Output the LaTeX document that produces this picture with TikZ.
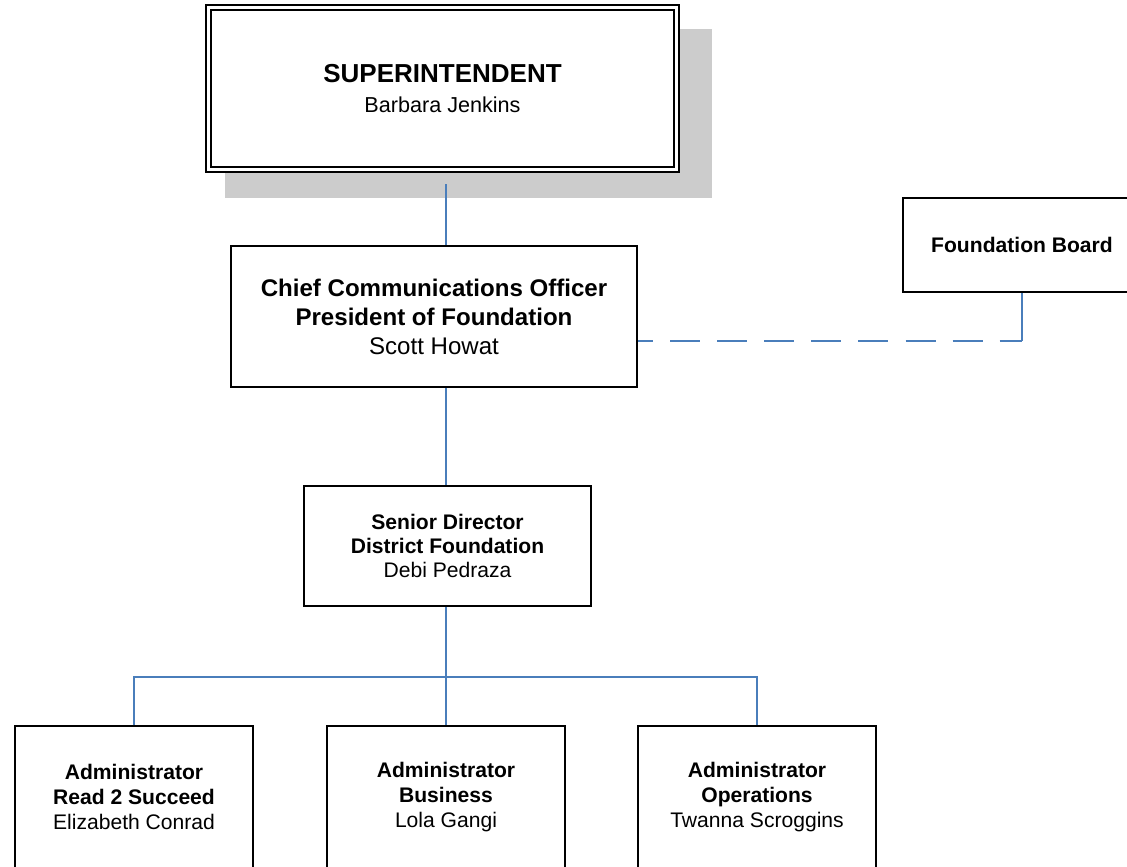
\documentclass[tikz,border=0pt]{standalone}
\usepackage{fontspec}
\setmainfont{Liberation Sans}
\usetikzlibrary{calc,shadows}
\definecolor{linkblue}{RGB}{74,126,187}
\definecolor{shade}{RGB}{204,204,204}
\tikzset{
  box/.style={draw=black,line width=1pt,fill=white,align=center,inner sep=0pt,
    minimum width=4.76cm,minimum height=2.84cm,font=\fontsize{12}{14.2}\selectfont},
  head box/.style={box,double,line width=1.3pt,double distance=1.3pt,
    minimum width=9.36cm,minimum height=3.24cm,font=\fontsize{12.3}{17}\selectfont,
    drop shadow={shadow xshift=0.5cm,shadow yshift=-0.48cm,shadow scale=1.04,fill=shade,opacity=1}},
  link/.style={draw=linkblue,line width=1pt},
  dashed link/.style={link,dash pattern=on 17.1pt off 9.7pt,dash phase=8.5pt},
}
\begin{document}
\begin{tikzpicture}[x=0.2mm,y=-0.2mm]
  \clip (0,0) rectangle (1127,867);
  \coordinate (spine) at (446,0);
  \coordinate (bus) at (446,677);
  % chart boxes
  \node[head box] (super) at (442.5,88.5)
    {{\fontsize{14.8}{17}\selectfont\bfseries SUPERINTENDENT}\\Barbara Jenkins};
  \node[box,minimum width=8.12cm,minimum height=2.82cm,font=\fontsize{13.7}{16.5}\selectfont] (chief) at (434,316.5)
    {\textbf{Chief Communications Officer}\\\textbf{President of Foundation}\\Scott Howat};
  \node[box,minimum height=1.88cm] (board) at (1022,245) {\textbf{Foundation Board}};
  \node[box,minimum width=5.74cm,minimum height=2.4cm,font=\fontsize{12}{13.7}\selectfont] (senior) at (447.5,546)
    {\textbf{Senior Director}\\\textbf{District Foundation}\\Debi Pedraza};
  \foreach \x/\role/\who [count=\i] in {134/Read 2 Succeed/Elizabeth Conrad,
      446/Business/Lola Gangi,757/Operations/Twanna Scroggins}
    \node[box] (adm\i) at (\x,797) {\textbf{Administrator}\\\textbf{\role}\\\who};
  % connectors
  \draw[link] (super.south -| spine) ++(0,13.5) -- (chief.north -| spine);
  \draw[link] (chief.south -| spine) -- (senior.north -| spine);
  \coordinate (tap) at ($(chief.east)+(0,24.5)$);
  \coordinate (corner) at (tap -| board.south);
  \draw[dashed link] (tap) -- (corner);
  \draw[link] (corner) -- (board.south);
  \draw[link] (senior.south -| spine) -- (adm2.north -| spine);
  \foreach \i in {1,3} \draw[link] (adm\i.north) |- (bus);
\end{tikzpicture}
\end{document}
